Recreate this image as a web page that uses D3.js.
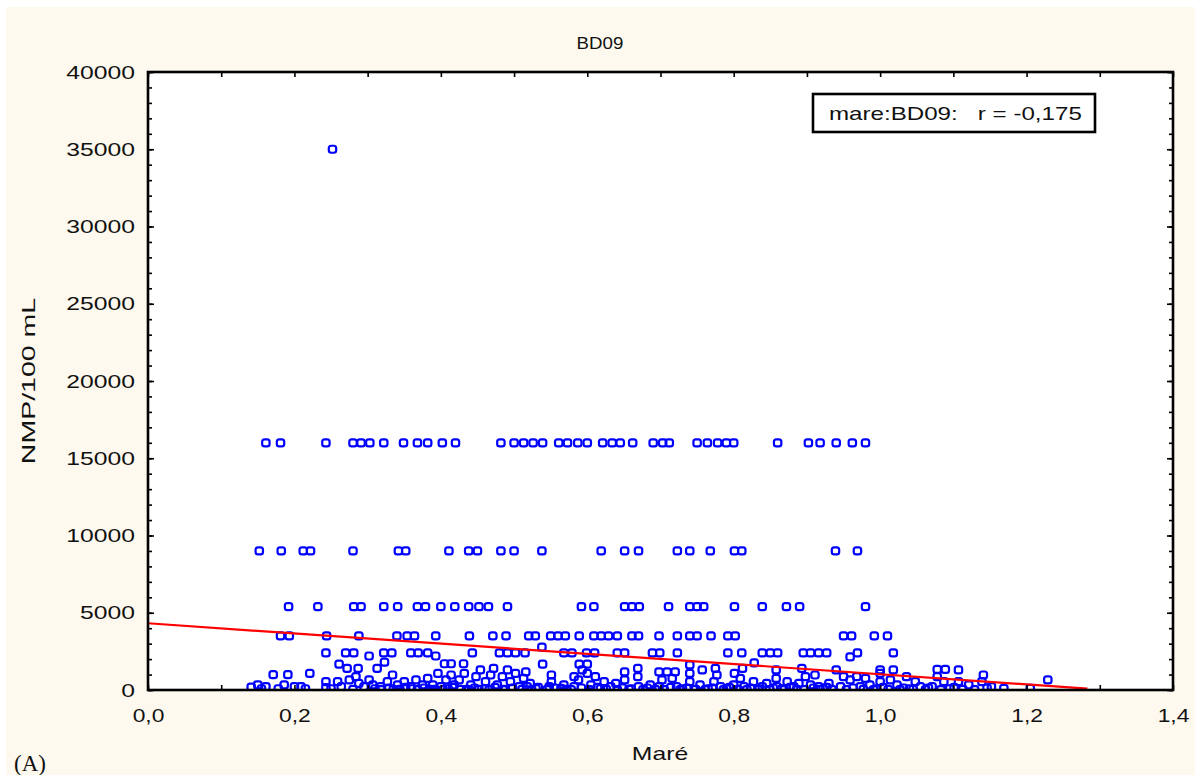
<!DOCTYPE html>
<html><head><meta charset="utf-8">
<script src="https://cdn.jsdelivr.net/npm/d3@7"></script>
<style>
body{margin:0;background:#fff;}
svg text{font-family:"Liberation Sans",Arial,sans-serif;fill:#111;}
</style>
</head><body>
<svg id="chart" width="1201" height="775"></svg>
<script>
// ---------------- data ----------------
const chartTitle = "BD09";
const xLabel = "Maré";
const yLabel = "NMP/100 mL";
const legendText = "mare:BD09:   r = -0,175";
const panelLabel = "(A)";

const xTickLabels = [0, 0.2, 0.4, 0.6, 0.8, 1.0, 1.2, 1.4];
const yTickLabels = [0, 5000, 10000, 15000, 20000, 25000, 30000, 35000, 40000];

// Maré values of samples at each NMP level
const mare35000 = [0.252];
const mare16000 = [0.161, 0.181, 0.243, 0.280, 0.291, 0.303, 0.322, 0.349, 0.368, 0.382, 0.402, 0.420,
  0.482, 0.500, 0.513, 0.526, 0.539, 0.561, 0.573, 0.587, 0.600, 0.621, 0.634, 0.645, 0.662,
  0.690, 0.703, 0.712, 0.750, 0.764, 0.778, 0.790, 0.800, 0.860, 0.902, 0.918, 0.940, 0.962, 0.980];
const mare9000 = [0.152, 0.182, 0.212, 0.222, 0.280, 0.342, 0.352, 0.411, 0.438, 0.450, 0.482, 0.500,
  0.538, 0.619, 0.651, 0.670, 0.723, 0.740, 0.768, 0.801, 0.811, 0.939, 0.969];
const mare5400 = [0.192, 0.232, 0.281, 0.291, 0.322, 0.341, 0.368, 0.379, 0.400, 0.419, 0.438, 0.452,
  0.465, 0.491, 0.592, 0.609, 0.651, 0.661, 0.671, 0.711, 0.740, 0.750, 0.759, 0.801, 0.839,
  0.872, 0.890, 0.980];
const mare3500 = [0.181, 0.193, 0.244, 0.288, 0.340, 0.354, 0.364, 0.393, 0.439, 0.471, 0.489, 0.520,
  0.529, 0.550, 0.560, 0.570, 0.589, 0.609, 0.619, 0.629, 0.641, 0.661, 0.670, 0.698, 0.723,
  0.740, 0.750, 0.769, 0.792, 0.802, 0.950, 0.961, 0.992, 1.010];
const mare2400 = [0.243, 0.270, 0.281, 0.322, 0.333, 0.359, 0.369, 0.382, 0.443, 0.480, 0.491, 0.502,
  0.515, 0.568, 0.579, 0.599, 0.610, 0.641, 0.651, 0.689, 0.699, 0.723, 0.792, 0.811, 0.839,
  0.850, 0.860, 0.895, 0.905, 0.916, 0.927, 0.969, 1.018];

// lower samples as [maré, NMP] pairs
const lowSamples = [
  [0.141,180],[0.150,330],[0.155,80],[0.161,220],[0.171,1000],[0.178,80],[0.186,330],[0.191,1000],
  [0.200,220],[0.209,220],[0.215,80],[0.221,1080],[0.243,540],[0.243,150],[0.250,80],
  [0.259,540],[0.261,1680],[0.264,220],[0.272,1400],[0.275,650],[0.280,45],[0.284,860],[0.287,1400],
  [0.288,430],[0.295,220],[0.302,650],[0.302,2200],[0.307,330],[0.310,80],[0.313,1400],[0.318,220],
  [0.323,1800],[0.327,540],[0.334,970],[0.335,45],[0.341,330],[0.350,540],[0.359,220],[0.360,80],
  [0.366,650],[0.375,330],[0.382,750],[0.385,45],[0.389,330],[0.393,2200],[0.396,1080],[0.400,220],
  [0.405,1700],[0.407,650],[0.410,80],[0.414,1700],[0.414,970],[0.418,330],[0.425,650],[0.431,1700],
  [0.432,1080],[0.435,45],[0.441,330],[0.448,860],[0.454,1300],[0.460,80],[0.461,540],[0.468,970],
  [0.472,1400],[0.477,330],[0.484,860],[0.485,45],[0.491,1300],[0.495,540],[0.502,1080],[0.507,220],
  [0.513,750],[0.516,1170],[0.518,220],[0.522,430],[0.530,80],[0.538,2780],[0.539,1680],[0.548,220],
  [0.551,970],[0.551,540],[0.564,110],[0.568,330],[0.582,860],[0.582,220],[0.588,650],[0.589,1680],
  [0.593,1300],[0.600,1680],[0.600,1080],[0.605,330],[0.611,860],[0.618,80],[0.623,540],[0.632,220],
  [0.639,430],[0.651,1170],[0.651,650],[0.660,80],[0.669,1400],[0.669,860],[0.670,220],[0.686,330],
  [0.698,1170],[0.698,220],[0.702,650],[0.709,1170],[0.716,750],[0.720,1170],[0.722,220],[0.730,80],
  [0.740,1620],[0.740,1080],[0.740,540],[0.754,330],[0.757,1300],[0.765,80],[0.773,540],[0.775,1400],
  [0.777,970],[0.782,220],[0.790,80],[0.800,330],[0.801,1080],[0.809,750],[0.812,1400],[0.814,220],
  [0.827,540],[0.828,1750],[0.835,80],[0.839,220],[0.845,430],[0.858,1300],[0.858,750],[0.859,220],
  [0.866,80],[0.873,540],[0.882,220],[0.889,430],
  [0.893,1400],[0.898,860],[0.905,330],[0.911,970],[0.916,220],[0.922,80],[0.930,430],[0.940,1300],
  [0.946,220],[0.950,860],[0.959,650],[0.959,2140],[0.968,860],[0.973,220],[0.980,750],[0.986,330],
  [0.995,80],[1.000,1300],[1.000,1080],[1.000,540],[1.014,650],[1.018,1300],[1.023,330],[1.036,860],
  [1.040,80],[1.048,540],[1.055,220],[1.071,220],[1.078,1340],[1.078,860],[1.087,540],[1.089,1340],
  [1.095,80],[1.107,1300],[1.107,540],[1.121,330],[1.139,540],[1.141,970],[1.152,220],[1.169,110],
  [1.205,110],[1.229,650]
];
// dense band of very low counts near the axis
const bandSamples = [
  [0.318,20],[0.329,130],[0.344,45],[0.352,170],[0.368,20],[0.377,130],[0.392,45],[0.403,20],
  [0.416,170],[0.427,45],[0.438,20],[0.446,130],[0.452,45],[0.466,20],[0.474,170],[0.488,20],
  [0.498,130],[0.511,45],[0.524,20],[0.533,170],[0.545,20],[0.556,130],[0.571,45],[0.578,20],
  [0.592,130],[0.603,20],[0.614,170],[0.626,45],[0.641,20],[0.648,130],[0.657,45],[0.676,20],
  [0.682,130],[0.693,45],[0.705,20],[0.714,170],[0.727,20],[0.736,130],[0.748,45],[0.761,20],
  [0.771,130],[0.786,20],[0.794,170],[0.806,45],[0.818,20],[0.823,130],[0.833,45],[0.849,20],
  [0.854,130],[0.869,20],[0.877,170],[0.886,45],[0.896,20],[0.909,130],[0.918,20],[0.927,170],
  [0.934,45],[0.954,20],[0.963,130],[0.977,45],[0.991,20],[1.004,170],[1.011,45],[1.027,20],
  [1.032,130],[1.045,45],[1.062,20],[1.066,130],[1.083,20],[1.101,170],[1.113,45],[1.129,20],
  [1.146,130]
];

// linear fit shown on the chart
const fitIntercept = 4320;
const fitSlope = -3300;
const fitRange = [0, 1.283];

// ---------------- drawing ----------------
const svg = d3.select("#chart");
const W = 1201, H = 775;
const M = {left: 148, right: 1173, top: 72, bottom: 690};

svg.append("rect").attr("width", W).attr("height", H).attr("fill", "#fff");
svg.append("rect").attr("x", 6).attr("y", 7).attr("width", 1189).attr("height", 768).attr("fill", "#fef9ee");

const x = d3.scaleLinear().domain([0, 1.4]).range([M.left, M.right]);
const y = d3.scaleLinear().domain([0, 40000]).range([M.bottom, M.top]);

svg.append("rect").attr("x", M.left).attr("y", M.top)
  .attr("width", M.right - M.left).attr("height", M.bottom - M.top).attr("fill", "#fff");

function stretch(sel, f) {
  sel.each(function () {
    const L = this.getComputedTextLength();
    this.setAttribute("textLength", L * f);
    this.setAttribute("lengthAdjust", "spacingAndGlyphs");
  });
}

// assemble points
const points = [];
const levels = [[mare35000, 35000], [mare16000, 16000], [mare9000, 9000], [mare5400, 5400], [mare3500, 3500], [mare2400, 2400]];
levels.forEach(([arr, v]) => arr.forEach(m => points.push([m, v])));
lowSamples.forEach(p => points.push(p));
bandSamples.forEach(p => points.push(p));

const clipId = "plotclip";
svg.append("clipPath").attr("id", clipId).append("rect")
  .attr("x", M.left).attr("y", M.top).attr("width", M.right - M.left).attr("height", M.bottom - M.top);

const pg = svg.append("g").attr("clip-path", `url(#${clipId})`);
pg.selectAll("rect.pt").data(points).join("rect").attr("class", "pt")
  .attr("x", d => x(d[0]) - 3.7).attr("y", d => y(d[1]) - 3.5)
  .attr("width", 7.4).attr("height", 7).attr("rx", 2.4)
  .attr("fill", "none").attr("stroke", "#0000ff").attr("stroke-width", 2.2);

// fit line
const fitData = fitRange.map(m => [m, fitIntercept + fitSlope * m]);
pg.append("path").datum(fitData)
  .attr("d", d3.line().x(d => x(d[0])).y(d => y(d[1])))
  .attr("fill", "none").attr("stroke", "#ff0000").attr("stroke-width", 2.2);

// axes (ticks inward)
const fmtX = d => d3.format(".1f")(d).replace(".", ",");
const xMinor = d3.range(0, 1.4001, 0.1);
const yMinor = d3.range(0, 40001, 1000);

function styleAxis(g) {
  g.select(".domain").remove();
  g.selectAll(".tick line").attr("stroke", "#000").attr("stroke-width", 1.6);
}

// minor ticks
svg.append("g").attr("transform", `translate(${M.left},0)`)
  .call(d3.axisLeft(y).tickValues(yMinor).tickSize(-4).tickFormat("")).call(styleAxis);
svg.append("g").attr("transform", `translate(${M.right},0)`)
  .call(d3.axisRight(y).tickValues(yMinor).tickSize(-4).tickFormat("")).call(styleAxis);
svg.append("g").attr("transform", `translate(0,${M.top})`)
  .call(d3.axisTop(x).tickValues(xMinor).tickSize(-5).tickFormat("")).call(styleAxis);

// major y with labels
const yAx = svg.append("g").attr("transform", `translate(${M.left},0)`)
  .call(d3.axisLeft(y).tickValues(yTickLabels).tickSize(-6).tickPadding(13).tickFormat(d => String(d)))
  .call(styleAxis);
yAx.selectAll("text").attr("font-size", 19).attr("font-family", "Liberation Sans, Arial, sans-serif").attr("fill", "#111");
stretch(yAx.selectAll("text"), 1.3);
svg.append("g").attr("transform", `translate(${M.right},0)`)
  .call(d3.axisRight(y).tickValues(yTickLabels).tickSize(-6).tickFormat("")).call(styleAxis);

// x axis with labels
const xAx = svg.append("g").attr("transform", `translate(0,${M.bottom})`)
  .call(d3.axisBottom(x).tickValues(xMinor).tickSize(-5).tickPadding(19)
    .tickFormat(d => xTickLabels.some(t => Math.abs(t - d) < 1e-6) ? fmtX(d) : ""))
  .call(styleAxis);
xAx.selectAll("text").attr("font-size", 19).attr("font-family", "Liberation Sans, Arial, sans-serif").attr("fill", "#111");
stretch(xAx.selectAll("text").filter(function () { return this.textContent !== ""; }), 1.2);

// frame
svg.append("rect").attr("x", M.left).attr("y", M.top)
  .attr("width", M.right - M.left).attr("height", M.bottom - M.top)
  .attr("fill", "none").attr("stroke", "#000").attr("stroke-width", 2.6);

// title
const tt = svg.append("text").attr("x", 600).attr("y", 49).attr("text-anchor", "middle")
  .attr("font-size", 17).text(chartTitle);
stretch(tt, 1.1);

// axis titles
const xt = svg.append("text").attr("x", 660).attr("y", 760).attr("text-anchor", "middle")
  .attr("font-size", 19).text(xLabel);
stretch(xt, 1.3);
const yt = svg.append("text").attr("transform", "translate(35,381) rotate(-90)").attr("text-anchor", "middle")
  .attr("font-size", 19).text(yLabel);
stretch(yt, 1.5);

// legend box
svg.append("rect").attr("x", 813).attr("y", 94).attr("width", 282).attr("height", 38)
  .attr("fill", "#fff").attr("stroke", "#000").attr("stroke-width", 2.6);
const lt = svg.append("text").attr("x", 829).attr("y", 120).attr("font-size", 19)
  .attr("xml:space", "preserve").style("white-space", "pre").text(legendText);
stretch(lt, 1.27);

// panel label
svg.append("text").attr("x", 14).attr("y", 771).attr("font-size", 23)
  .style("font-family", "'Liberation Serif','Times New Roman',serif").text(panelLabel);
</script>
</body></html>
